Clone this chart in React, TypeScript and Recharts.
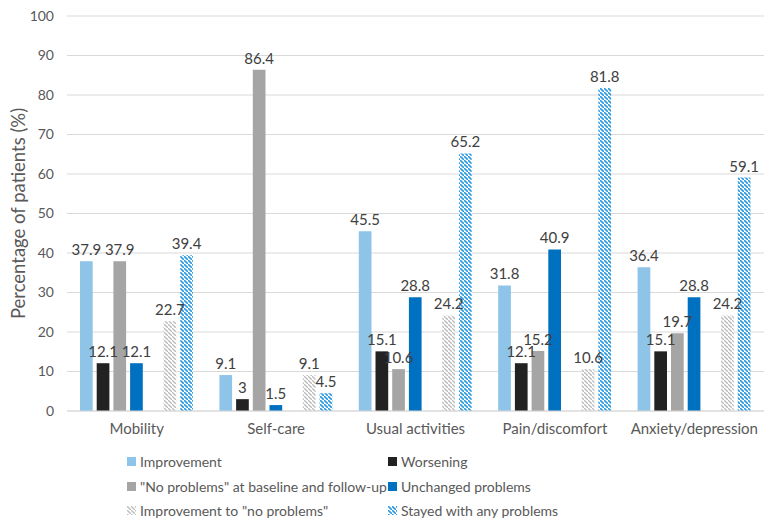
import { BarChart, Bar, XAxis, YAxis, CartesianGrid, LabelList } from 'recharts'

const categories = ['Mobility', 'Self-care', 'Usual activities', 'Pain/discomfort', 'Anxiety/depression']
const improvement = [37.9, 9.1, 45.5, 31.8, 36.4]
const worsening = [12.1, 3, 15.1, 12.1, 15.1]
const noProblems = [37.9, 86.4, 10.6, 15.2, 19.7]
const unchanged = [12.1, 1.5, 28.8, 40.9, 28.8]
const improvedToNone = [22.7, 9.1, 24.2, 10.6, 24.2]
const stayed = [39.4, 4.5, 65.2, 81.8, 59.1]
const yTicks = [0, 10, 20, 30, 40, 50, 60, 70, 80, 90, 100]

const data = categories.map((name, i) => ({
  name,
  improvement: improvement[i],
  worsening: worsening[i],
  noProblems: noProblems[i],
  unchanged: unchanged[i],
  spacer: 0,
  improvedToNone: improvedToNone[i],
  stayed: stayed[i],
}))

const FONT = 'Lato, "Open Sans", sans-serif'
const TEXT = '#595959'

const series = [
  { key: 'improvement', label: 'Improvement', fill: '#8ec4e8' },
  { key: 'worsening', label: 'Worsening', fill: '#222222' },
  { key: 'noProblems', label: '"No problems" at baseline and follow-up', fill: '#a5a5a5' },
  { key: 'unchanged', label: 'Unchanged problems', fill: '#0070c0' },
  { key: 'improvedToNone', label: 'Improvement to "no problems"', fill: 'url(#hatchGray)' },
  { key: 'stayed', label: 'Stayed with any problems', fill: 'url(#hatchBlue)' },
]

function Swatch({ fill }: { fill: string }) {
  return (
    <svg width={9} height={9} style={{ marginRight: 4 }}>
      <rect width={9} height={9} fill={fill} />
    </svg>
  )
}

function ChartLegend() {
  const pos = [
    { left: 127, top: 452 },
    { left: 388, top: 452 },
    { left: 127, top: 477 },
    { left: 388, top: 477 },
    { left: 127, top: 501 },
    { left: 388, top: 501 },
  ]
  return (
    <>
      {series.map((s, i) => (
        <div
          key={s.key}
          style={{
            position: 'absolute',
            left: pos[i].left,
            top: pos[i].top,
            display: 'flex',
            alignItems: 'center',
            fontFamily: FONT,
            fontSize: 14,
            color: TEXT,
            whiteSpace: 'nowrap',
            height: 18,
          }}
        >
          <Swatch fill={s.fill} />
          {s.label}
        </div>
      ))}
    </>
  )
}

export default function App() {
  return (
    <div style={{ position: 'absolute', left: 0, top: 0, width: 781, height: 526, background: '#fff' }}>
      <svg width={0} height={0} style={{ position: 'absolute' }}>
        <defs>
          <pattern id="hatchGray" patternUnits="userSpaceOnUse" width={4} height={4}>
            <rect width={4} height={4} fill="#ffffff" />
            <path d="M-1,-1 l2,2 M0,0 l4,4 M3,3 l2,2" stroke="#bdbdbd" strokeWidth={1.4} />
          </pattern>
          <pattern id="hatchBlue" patternUnits="userSpaceOnUse" width={4} height={4}>
            <rect width={4} height={4} fill="#ffffff" />
            <path d="M-1,-1 l2,2 M0,0 l4,4 M3,3 l2,2" stroke="#2d9be2" strokeWidth={1.6} />
          </pattern>
        </defs>
      </svg>
      <BarChart
        width={781}
        height={526}
        data={data}
        margin={{ top: 16, right: 17, left: 0, bottom: 85 }}
        barSize={12.7}
        barGap={4}
      >
        <CartesianGrid vertical={false} stroke="#d9d9d9" />
        <XAxis
          dataKey="name"
          height={30}
          tickLine={false}
          axisLine={{ stroke: '#d9d9d9' }}
          tickMargin={6}
          tick={{ fill: TEXT, fontSize: 15, fontFamily: FONT }}
        />
        <YAxis
          width={67}
          domain={[0, 100]}
          ticks={yTicks}
          tickLine={false}
          axisLine={false}
          tickMargin={7}
          tick={{ fill: TEXT, fontSize: 14, fontFamily: FONT }}
          label={{
            value: 'Percentage of patients (%)',
            angle: -90,
            position: 'center',
            dx: -15,
            style: { fill: TEXT, fontSize: 18.5, fontFamily: FONT, textAnchor: 'middle' },
          }}
        />
        {series.slice(0, 4).map((s) => (
          <Bar key={s.key} dataKey={s.key} fill={s.fill} isAnimationActive={false}>
            <LabelList dataKey={s.key} position="top" offset={6} fill="#404040" fontSize={15} fontFamily={FONT} />
          </Bar>
        ))}
        <Bar dataKey="spacer" fill="transparent" isAnimationActive={false} />
        {series.slice(4).map((s) => (
          <Bar key={s.key} dataKey={s.key} fill={s.fill} isAnimationActive={false}>
            <LabelList dataKey={s.key} position="top" offset={6} fill="#404040" fontSize={15} fontFamily={FONT} />
          </Bar>
        ))}
      </BarChart>
      <ChartLegend />
    </div>
  )
}
